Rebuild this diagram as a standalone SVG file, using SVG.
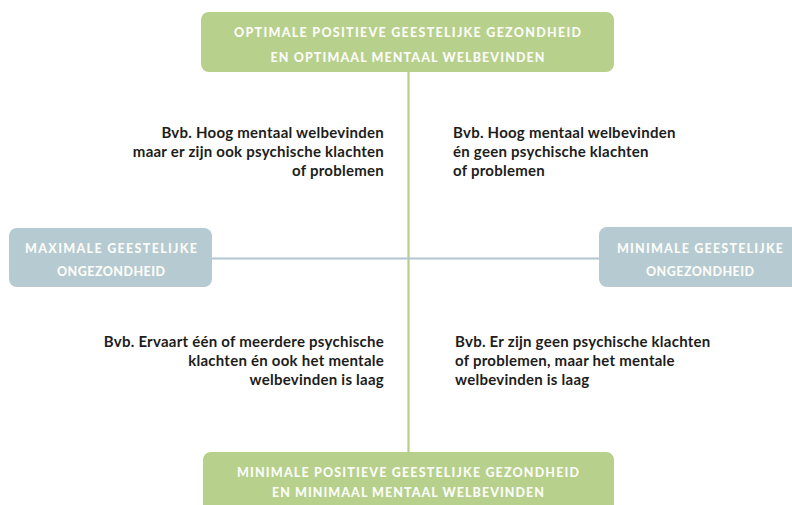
<svg xmlns="http://www.w3.org/2000/svg" width="792" height="505" viewBox="0 0 792 505">
  <style>
    .bg { fill: #ffffff; }
    .green { fill: #b7d08c; }
    .blue { fill: #b6cad1; }
    .cap { font-family: Lato, "Open Sans", sans-serif; font-weight: 900; font-size: 12.5px; fill: #fbfcf7; text-anchor: middle; dominant-baseline: central; }
    .body { font-family: Lato, "Open Sans", sans-serif; font-weight: 700; font-size: 15px; letter-spacing: 0.25px; fill: #1d1d1b; }
    .end { text-anchor: end; }
    .vline { stroke: #b5cf88; stroke-width: 2.2; fill: none; }
    .hline { stroke: #b1c6ce; stroke-width: 2.2; fill: none; }
  </style>
  <rect class="bg" x="0" y="0" width="792" height="505"/>
  <g id="connectors">
    <line class="vline" x1="408.5" y1="70" x2="408.5" y2="454"/>
    <line class="hline" x1="210" y1="258.5" x2="601" y2="258.5"/>
  </g>
  <g id="top-node">
    <rect class="green" x="201" y="12" width="413" height="60" rx="8"/>
    <text class="cap" x="407.5" y="32" textLength="347" lengthAdjust="spacing">OPTIMALE POSITIEVE GEESTELIJKE GEZONDHEID</text>
    <text class="cap" x="407.5" y="57.5" textLength="274" lengthAdjust="spacing">EN OPTIMAAL MENTAAL WELBEVINDEN</text>
  </g>
  <g id="bottom-node">
    <rect class="green" x="203" y="452" width="411" height="70" rx="8"/>
    <text class="cap" x="408" y="472" textLength="342" lengthAdjust="spacing">MINIMALE POSITIEVE GEESTELIJKE GEZONDHEID</text>
    <text class="cap" x="408" y="492" textLength="272" lengthAdjust="spacing">EN MINIMAAL MENTAAL WELBEVINDEN</text>
  </g>
  <g id="left-node">
    <rect class="blue" x="9" y="228" width="203" height="59" rx="8"/>
    <text class="cap" x="111" y="248" textLength="172" lengthAdjust="spacing">MAXIMALE GEESTELIJKE</text>
    <text class="cap" x="111" y="271" textLength="108" lengthAdjust="spacing">ONGEZONDHEID</text>
  </g>
  <g id="right-node">
    <rect class="blue" x="599" y="227" width="205" height="60" rx="8"/>
    <text class="cap" x="700" y="248" textLength="166" lengthAdjust="spacing">MINIMALE GEESTELIJKE</text>
    <text class="cap" x="700" y="271" textLength="108" lengthAdjust="spacing">ONGEZONDHEID</text>
  </g>
  <g id="upper-left-text">
    <text class="body end" x="384" y="138">Bvb. Hoog mentaal welbevinden</text>
    <text class="body end" x="384" y="157">maar er zijn ook psychische klachten</text>
    <text class="body end" x="384" y="176">of problemen</text>
  </g>
  <g id="upper-right-text">
    <text class="body" x="453" y="138">Bvb. Hoog mentaal welbevinden</text>
    <text class="body" x="453" y="157">én geen psychische klachten</text>
    <text class="body" x="453" y="176">of problemen</text>
  </g>
  <g id="lower-left-text">
    <text class="body end" x="384" y="347">Bvb. Ervaart één of meerdere psychische</text>
    <text class="body end" x="384" y="366">klachten én ook het mentale</text>
    <text class="body end" x="384" y="385">welbevinden is laag</text>
  </g>
  <g id="lower-right-text">
    <text class="body" x="455" y="347">Bvb. Er zijn geen psychische klachten</text>
    <text class="body" x="455" y="366">of problemen, maar het mentale</text>
    <text class="body" x="455" y="385">welbevinden is laag</text>
  </g>
</svg>
